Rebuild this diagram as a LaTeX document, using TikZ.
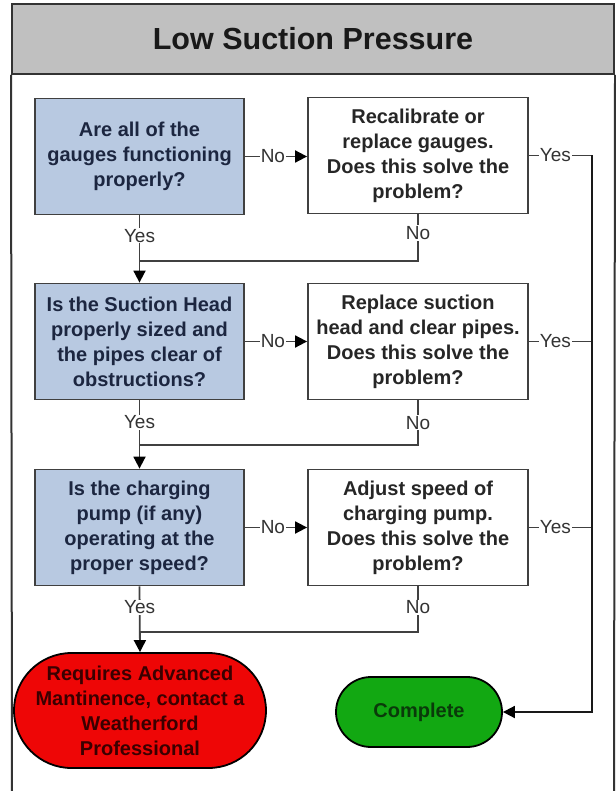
\documentclass[tikz,border=0pt]{standalone}
\usepackage{fontspec}
\setmainfont{Liberation Sans}
\usetikzlibrary{arrows.meta,shapes.misc}
\definecolor{hdr}{HTML}{C0C0C0}
\definecolor{qfill}{HTML}{B8C9E1}
\definecolor{qtext}{HTML}{1C2640}
\definecolor{edgec}{HTML}{404040}
\definecolor{redf}{HTML}{EE0606}
\definecolor{redt}{HTML}{3A0000}
\definecolor{greenf}{HTML}{12A812}
\definecolor{greent}{HTML}{0A3A0A}
\begin{document}
\begin{tikzpicture}[x=1pt,y=-1pt,
  box/.style={draw=edgec, line width=1.8pt, align=center, inner sep=0pt,
    font=\fontsize{20}{25}\selectfont\bfseries},
  qbox/.style={box, fill=qfill, text=qtext, minimum width=209pt, minimum height=116pt},
  abox/.style={box, fill=white, text=black!85, minimum width=220pt, minimum height=116pt},
  term/.style={rounded rectangle, draw=black, line width=1.8pt, align=center, inner sep=0pt,
    font=\fontsize{20}{25}\selectfont\bfseries},
  lbl/.style={fill=white, inner sep=1pt, font=\fontsize{19}{19}\selectfont, text=black!80},
  conn/.style={draw=edgec, line width=1.8pt},
  arr/.style={conn, -{Triangle[length=12pt,width=12pt,color=black]}}]
\useasboundingbox (0,0) rectangle (615,791);
\fill[white] (0,0) rectangle (615,791);
% header
\node[draw=black!80, line width=2pt, fill=hdr, minimum width=602pt, minimum height=70pt,
  inner sep=0pt, text=black!90, font=\fontsize{30.5}{30}\selectfont\bfseries]
  (title) at (313,39) {Low Suction Pressure};
\coordinate (fl) at (12,791);
\coordinate (fr) at (614,791);
\draw[black!80, line width=2pt] (title.south west) -- (fl);
\draw[black!80, line width=2pt] (title.south east) -- (fr);
% boxes
\node[qbox] (b1) at (139.5,156.5) {Are all of the\\gauges functioning\\properly?};
\node[abox] (b2) at (418,155.5) {Recalibrate or\\replace gauges.\\Does this solve the\\problem?};
\node[qbox] (b3) at (139.5,341.5) {Is the Suction Head\\properly sized and\\the pipes clear of\\obstructions?};
\node[abox] (b4) at (418,341.5) {Replace suction\\head and clear pipes.\\Does this solve the\\problem?};
\node[qbox] (b5) at (139.5,527.5) {Is the charging\\pump (if any)\\operating at the\\proper speed?};
\node[abox] (b6) at (418,527.5) {Adjust speed of\\charging pump.\\Does this solve the\\problem?};
\node[term, fill=redf, text=redt, minimum width=234pt, minimum height=115pt]
  (adv) at (140,710.5) {Requires Advanced\\Mantinence, contact a\\Weatherford\\Professional};
\node[term, fill=greenf, text=greent, minimum width=166pt, minimum height=70pt]
  (done) at (419,712) {Complete};
% merge points
\coordinate (m1) at (139.5,261);
\coordinate (m2) at (139.5,445);
\coordinate (m3) at (139.5,632);
\coordinate (r1) at (592,155.5);
% No arrows
\draw[arr] (b1.east) -- node[lbl, pos=0.45]{No} (b2.west |- b1.east);
\draw[arr] (b3.east) -- node[lbl, pos=0.45]{No} (b4.west);
\draw[arr] (b5.east) -- node[lbl, pos=0.45]{No} (b6.west);
% Yes down
\draw[arr] (b1.south) -- node[lbl, pos=0.3]{Yes} (b3.north);
\draw[arr] (b3.south) -- node[lbl, pos=0.32]{Yes} (b5.north);
\draw[arr] (b5.south) -- node[lbl, pos=0.32]{Yes} (adv.north);
% No returns
\draw[conn] (b2.south) |- node[lbl, pos=0.2]{No} (m1);
\draw[conn] (b4.south) |- node[lbl, pos=0.25]{No} (m2);
\draw[conn] (b6.south) |- node[lbl, pos=0.23]{No} (m3);
% Yes right
\draw[conn] (b2.east) -- node[lbl, pos=0.42]{Yes} (r1);
\draw[conn] (b4.east) -- node[lbl, pos=0.42]{Yes} (b4.east -| r1);
\draw[conn] (b6.east) -- node[lbl, pos=0.42]{Yes} (b6.east -| r1);
\draw[arr, draw=black!90] (r1) |- (done.east);
\end{tikzpicture}
\end{document}
